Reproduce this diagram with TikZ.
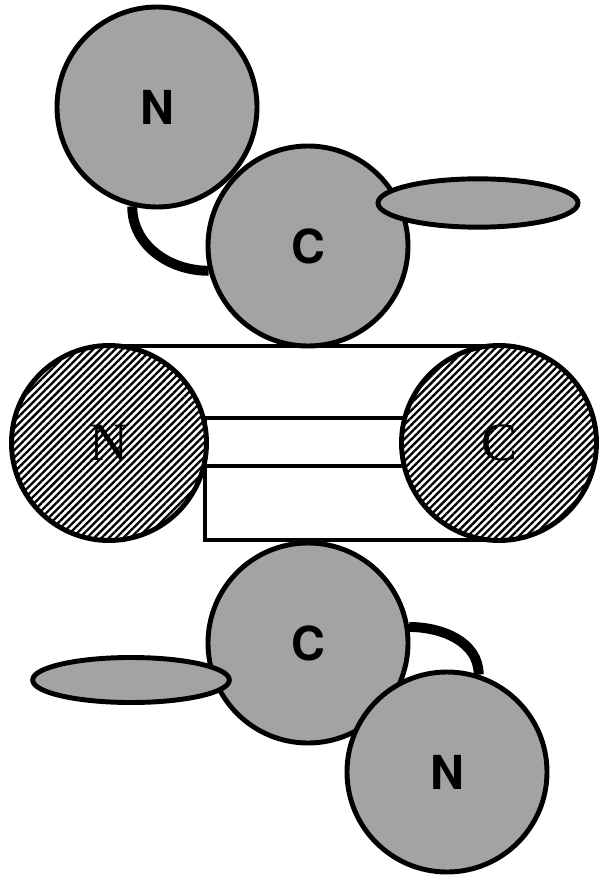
\documentclass[tikz,border=0pt]{standalone}
\usepackage{fontspec}
\setsansfont{TeX Gyre Heros}
\setmainfont{Liberation Serif}
\usetikzlibrary{patterns.meta,shapes.geometric}

\begin{document}
\begin{tikzpicture}[
      x=0.03cm,
      y=-0.03cm,
      inner sep=0pt,
      every node/.style={font=\sffamily\bfseries\fontsize{40}{40}\selectfont},
      unit/.style={circle,draw,line width=4.2pt,fill=black!36,minimum size=6cm},
      core/.style={circle,draw,line width=4.2pt,minimum size=5.85cm,
        font=\rmfamily\fontsize{46}{46}\selectfont,
        preaction={fill=white},pattern={Lines[angle=45,distance=4.4pt,line width=2pt]}},
      blob/.style={ellipse,draw,line width=4.2pt,fill=black!36},
      link/.style={line width=8.5pt},
      band/.style={line width=4.2pt}
    ]
    \useasboundingbox (0,0) rectangle (599,880);
    % middle part
    \draw[band] (109,346) -- (499,346);
    \draw[band] (499,540) -- (205,540) -- (205,466);
    \draw[band] (205,418) rectangle (405,466);
    \node (nMid) [core] at (109,443) {N};
    \node (cMid) [core] at (499,443) {C};
    % upper copy
    \node (nTop) [unit] at (157,107) {N};
    \node (cTop) [unit] at (308,246) {C};
    \node (hTop) [blob,minimum width=6cm,minimum height=1.45cm] at (478,203) {};
    \draw[link] (nTop.256) to[out=-90,in=180] (cTop.194);
    % lower copy
    \node (cBot) [unit] at (308,643) {C};
    \node (nBot) [unit] at (447,772) {N};
    \node (hBot) [blob,minimum width=5.9cm,minimum height=1.35cm] at (131,680) {};
    \draw[link] (cBot.9) to[out=0,in=90] (nBot.72);
  \end{tikzpicture}
\end{document}
